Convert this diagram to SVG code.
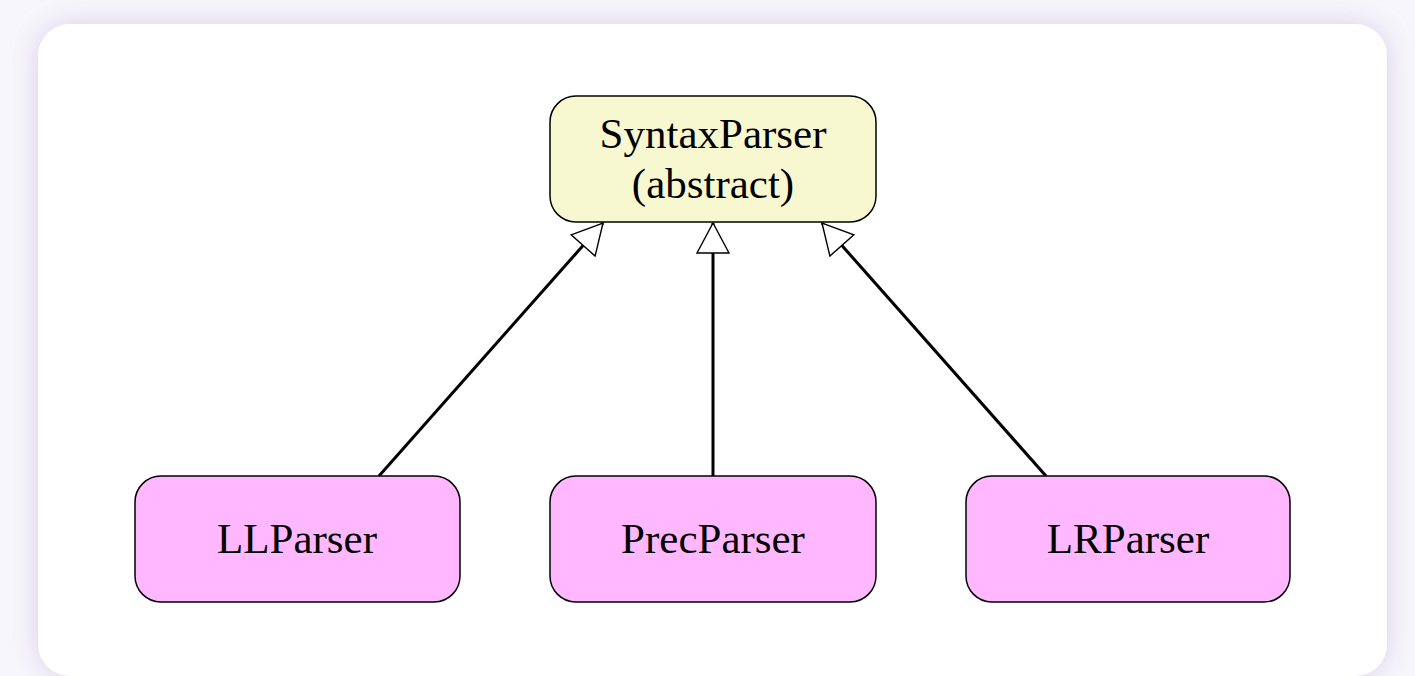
<svg xmlns="http://www.w3.org/2000/svg" width="1415" height="676" viewBox="0 0 1415 676">
  <defs>
    <filter id="cardShadow" x="-10%" y="-10%" width="120%" height="125%">
      <feGaussianBlur in="SourceAlpha" stdDeviation="14" result="blur"/>
      <feFlood flood-color="#b8a8d8" flood-opacity="0.5"/>
      <feComposite in2="blur" operator="in" result="shadow"/>
      <feMerge>
        <feMergeNode in="shadow"/>
        <feMergeNode in="SourceGraphic"/>
      </feMerge>
    </filter>
    <marker id="inherit" viewBox="0 0 32 34" refX="31" refY="17" markerWidth="32" markerHeight="34" markerUnits="userSpaceOnUse" orient="auto">
      <path d="M1,1 L31,17 L1,33 Z" fill="#ffffff" stroke="#000000" stroke-width="1.4"/>
    </marker>
  </defs>
  <style>
    .node rect { stroke: #000000; stroke-width: 1.5; }
    .abstract rect { fill: #f8f8d0; }
    .concrete rect { fill: #ffb8ff; }
    .label { font-family: "Liberation Serif", "Times New Roman", serif; font-size: 43px; fill: #000000; text-anchor: middle; }
    .edge { stroke: #000000; stroke-width: 3; fill: none; marker-end: url(#inherit); }
  </style>

  <rect x="0" y="0" width="1415" height="676" fill="#f7f6fb"/>
  <rect x="38" y="24" width="1349" height="652" rx="32" fill="#ffffff" filter="url(#cardShadow)"/>

  <g id="connectors">
    <line class="edge" x1="379" y1="476" x2="603" y2="223"/>
    <line class="edge" x1="713" y1="476" x2="713" y2="223"/>
    <line class="edge" x1="1046" y1="476" x2="822" y2="223"/>
  </g>

  <g id="SyntaxParser" class="node abstract">
    <rect x="550" y="96" width="326" height="126" rx="26"/>
    <text class="label" x="713" y="148">SyntaxParser</text>
    <text class="label" x="713" y="198">(abstract)</text>
  </g>

  <g id="LLParser" class="node concrete">
    <rect x="135" y="476" width="325" height="126" rx="26"/>
    <text class="label" x="297" y="553">LLParser</text>
  </g>

  <g id="PrecParser" class="node concrete">
    <rect x="550" y="476" width="326" height="126" rx="26"/>
    <text class="label" x="713" y="553">PrecParser</text>
  </g>

  <g id="LRParser" class="node concrete">
    <rect x="966" y="476" width="324" height="126" rx="26"/>
    <text class="label" x="1128" y="553">LRParser</text>
  </g>
</svg>
